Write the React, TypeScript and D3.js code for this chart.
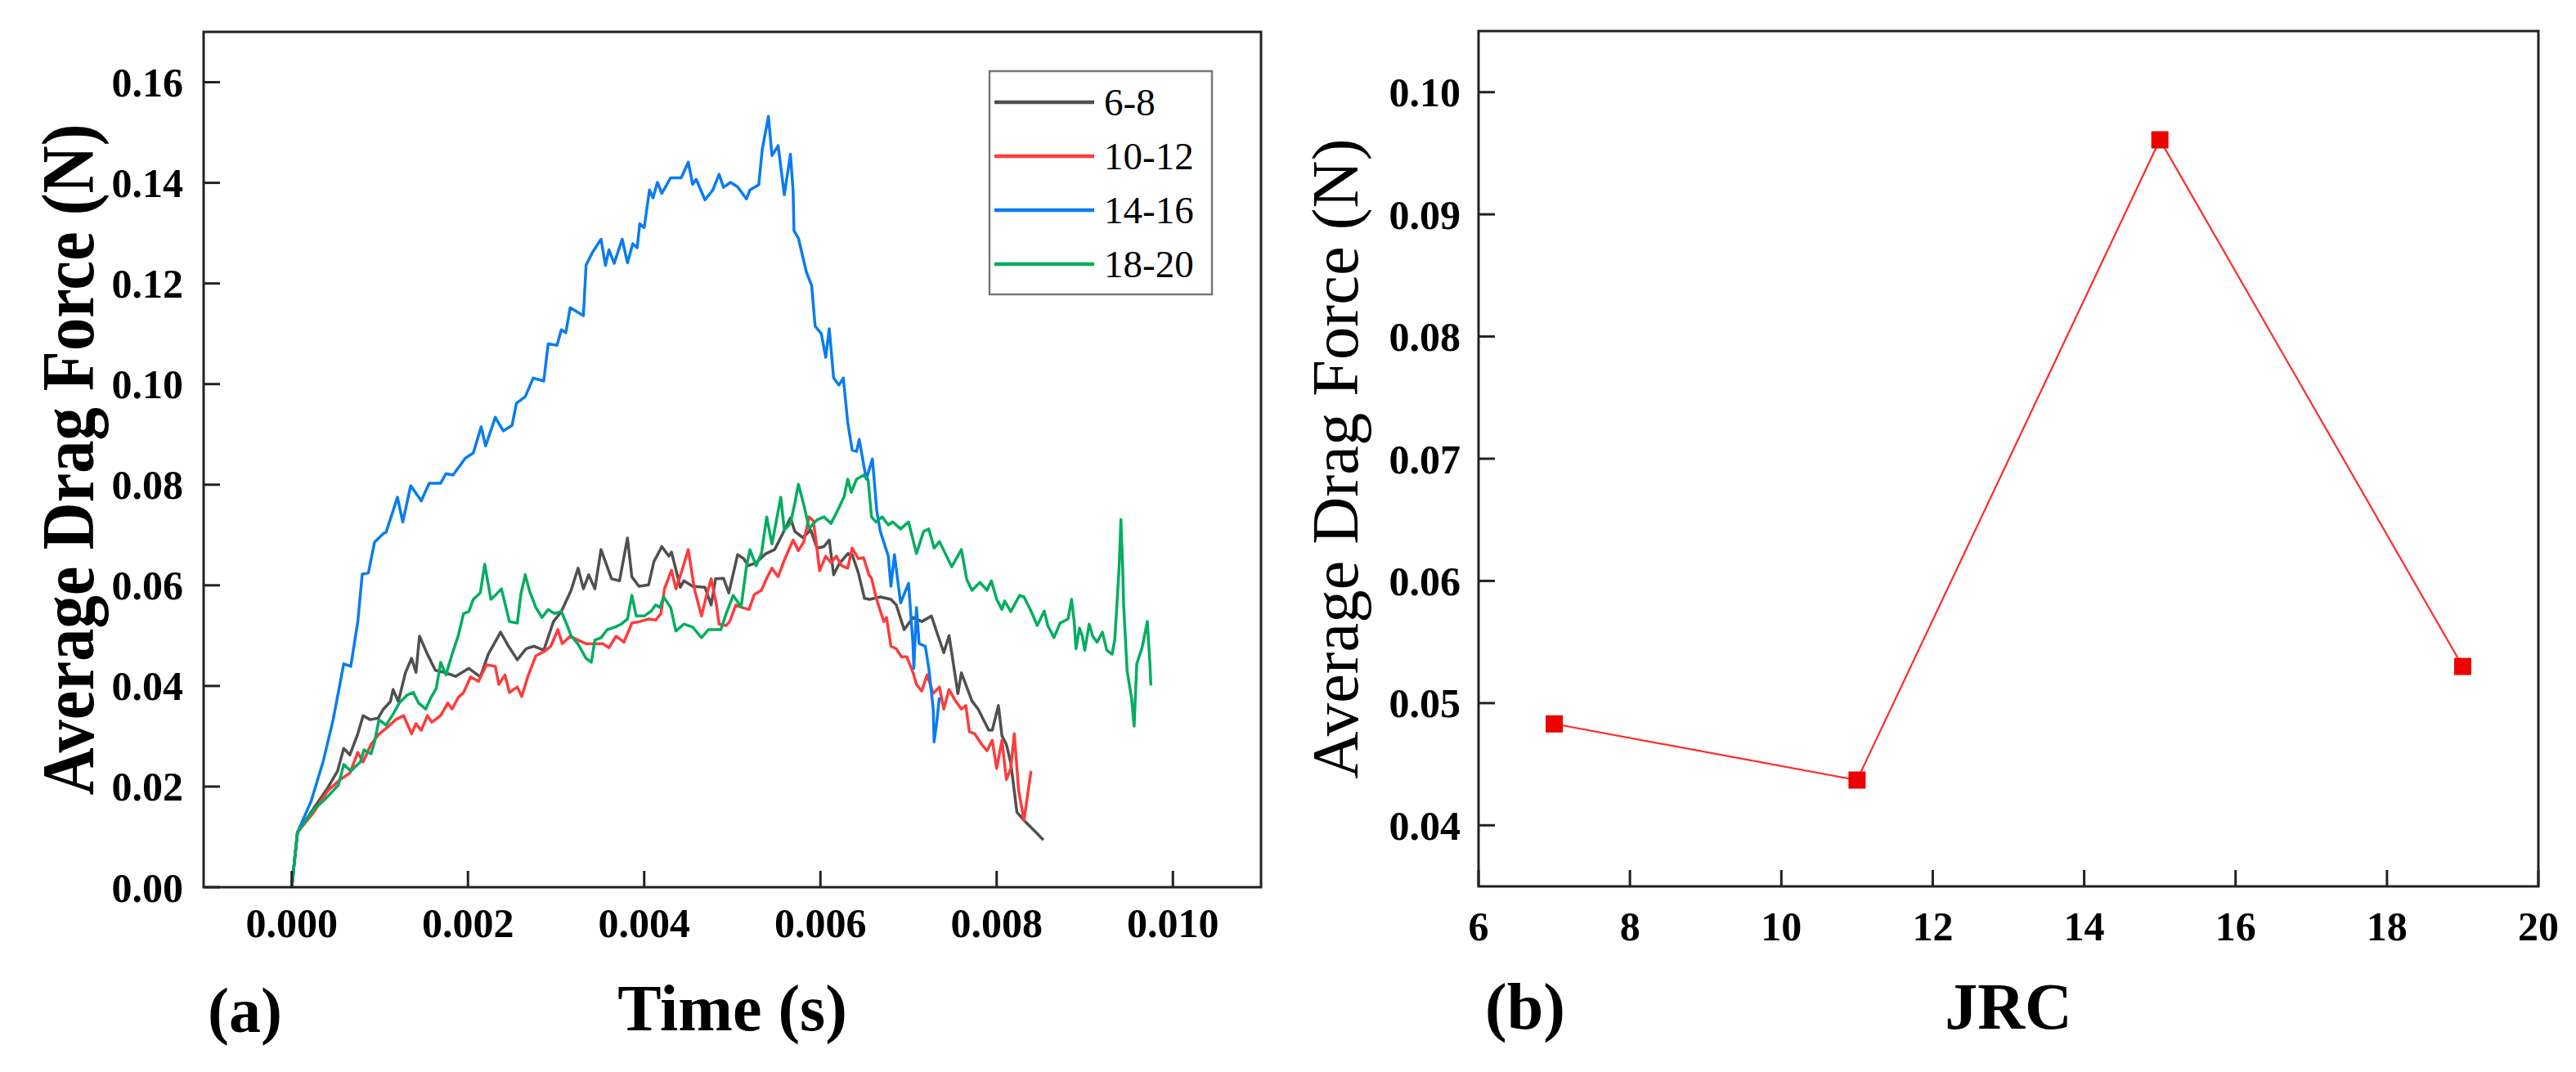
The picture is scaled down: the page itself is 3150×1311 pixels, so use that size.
import * as d3 from 'd3';

// ---- panel (a): drag force vs time, one trace per JRC range ----
const seriesNames = ['6-8', '10-12', '14-16', '18-20'];
const seriesColors = ['#505050', '#ff3b3b', '#0a7cf0', '#04ad60'];

const jrc68: [number, number][] = [
  [0, 0], [0.000065, 0.0109], [0.00022, 0.0149], [0.00041, 0.0198], [0.00052, 0.0231], [0.00059, 0.0276],
  [0.00066, 0.0263], [0.00075, 0.0305], [0.00081, 0.0341], [0.00089, 0.0333], [0.00098, 0.0336], [0.00104, 0.0354],
  [0.00112, 0.0369], [0.00115, 0.0393], [0.00121, 0.0369], [0.00129, 0.0426], [0.00136, 0.0455], [0.00141, 0.0427],
  [0.00145, 0.0499], [0.00154, 0.0463], [0.00163, 0.0431], [0.00173, 0.0427], [0.00186, 0.0419], [0.00201, 0.0435],
  [0.00214, 0.0418], [0.00223, 0.0463], [0.00237, 0.0507], [0.00246, 0.0479], [0.00256, 0.0452], [0.00266, 0.0474],
  [0.00275, 0.0479], [0.00286, 0.0471], [0.00297, 0.0528], [0.00306, 0.0548], [0.00317, 0.059], [0.00325, 0.0634],
  [0.00331, 0.0593], [0.00337, 0.0621], [0.00344, 0.0593], [0.00351, 0.0671], [0.00363, 0.0613], [0.00372, 0.0609],
  [0.00381, 0.0694], [0.00386, 0.0617], [0.00394, 0.0598], [0.00405, 0.0601], [0.00411, 0.0647], [0.0042, 0.0677],
  [0.00428, 0.0658], [0.00431, 0.0666], [0.00441, 0.0596], [0.00445, 0.0609], [0.00455, 0.0598], [0.00469, 0.0596],
  [0.00476, 0.0561], [0.00481, 0.0613], [0.0049, 0.0614], [0.00496, 0.0585], [0.00506, 0.0661], [0.00513, 0.0653],
  [0.00518, 0.0639], [0.00527, 0.0645], [0.00538, 0.0663], [0.00548, 0.0671], [0.00557, 0.0702], [0.00566, 0.0734],
  [0.00571, 0.0707], [0.0058, 0.0695], [0.00589, 0.071], [0.00596, 0.0674], [0.00604, 0.0677], [0.0061, 0.069],
  [0.00615, 0.0621], [0.00621, 0.0642], [0.00631, 0.0663], [0.00636, 0.0661], [0.00643, 0.0625], [0.0065, 0.0574],
  [0.00656, 0.0572], [0.00668, 0.0577], [0.0068, 0.0572], [0.00686, 0.0561], [0.00695, 0.0512], [0.00705, 0.0536],
  [0.00715, 0.0528], [0.00726, 0.0539], [0.00732, 0.0507], [0.0074, 0.0466], [0.00746, 0.05], [0.00756, 0.0385],
  [0.0076, 0.0426], [0.00772, 0.037], [0.00779, 0.0354], [0.00791, 0.0312], [0.00795, 0.0312], [0.00802, 0.0361],
  [0.00806, 0.0301], [0.00811, 0.0284], [0.00816, 0.0247], [0.00823, 0.0149], [0.00831, 0.0133], [0.00844, 0.011],
  [0.00853, 0.0094],
];

const jrc1012: [number, number][] = [
  [0, 0], [0.000065, 0.0109], [0.00025, 0.0149], [0.00041, 0.0192], [0.00055, 0.0214], [0.00066, 0.0227],
  [0.00075, 0.0268], [0.00081, 0.0249], [0.0009, 0.0284], [0.00099, 0.0304], [0.00108, 0.0317], [0.00118, 0.0333],
  [0.00127, 0.0341], [0.00136, 0.0305], [0.00141, 0.0325], [0.00147, 0.0312], [0.00154, 0.0341], [0.00159, 0.0328],
  [0.00169, 0.0341], [0.00177, 0.0366], [0.00182, 0.0354], [0.00189, 0.0377], [0.00195, 0.0387], [0.00203, 0.0418],
  [0.00212, 0.0409], [0.00221, 0.0442], [0.00231, 0.0439], [0.00235, 0.0403], [0.00242, 0.0422], [0.00247, 0.0387],
  [0.00256, 0.0398], [0.00261, 0.0379], [0.00268, 0.0419], [0.00277, 0.046], [0.00286, 0.0468], [0.00294, 0.0479],
  [0.00302, 0.0512], [0.00307, 0.0484], [0.00316, 0.0499], [0.00325, 0.0491], [0.00334, 0.0484], [0.00344, 0.0484],
  [0.00353, 0.0484], [0.0036, 0.0476], [0.00368, 0.0499], [0.00377, 0.0487], [0.00386, 0.0525], [0.00395, 0.0528],
  [0.00405, 0.0533], [0.00413, 0.0531], [0.00419, 0.0544], [0.00423, 0.0593], [0.00431, 0.063], [0.00436, 0.0593],
  [0.00442, 0.0625], [0.0045, 0.0671], [0.00457, 0.0593], [0.00465, 0.0539], [0.00471, 0.0582], [0.00476, 0.0613],
  [0.00482, 0.0561], [0.00485, 0.0523], [0.00493, 0.052], [0.00497, 0.0528], [0.00504, 0.0561], [0.00511, 0.0556],
  [0.00519, 0.0552], [0.00525, 0.0582], [0.00533, 0.059], [0.00539, 0.0614], [0.00545, 0.0634], [0.00552, 0.0617],
  [0.00559, 0.065], [0.00569, 0.069], [0.00575, 0.0669], [0.00581, 0.0686], [0.00587, 0.0736], [0.00592, 0.0728],
  [0.00596, 0.0674], [0.00599, 0.0629], [0.00606, 0.0658], [0.00612, 0.0645], [0.00618, 0.0658], [0.00624, 0.0639],
  [0.00631, 0.0634], [0.00636, 0.0674], [0.00643, 0.0653], [0.00649, 0.0655], [0.00655, 0.0621], [0.00658, 0.0614],
  [0.00663, 0.0577], [0.00668, 0.0549], [0.00672, 0.0528], [0.00675, 0.0536], [0.0068, 0.0479], [0.00686, 0.0474],
  [0.00692, 0.0458], [0.00698, 0.0458], [0.00705, 0.0427], [0.00709, 0.0403], [0.00715, 0.039], [0.00721, 0.0422],
  [0.00728, 0.0385], [0.00735, 0.0398], [0.0074, 0.0354], [0.00746, 0.0393], [0.00752, 0.0374], [0.0076, 0.0354],
  [0.00765, 0.0361], [0.00769, 0.0309], [0.00775, 0.0305], [0.00783, 0.0284], [0.00789, 0.0271], [0.00795, 0.0292],
  [0.008, 0.0236], [0.00806, 0.0292], [0.00811, 0.0214], [0.00816, 0.0236], [0.0082, 0.0305], [0.00825, 0.0192],
  [0.00831, 0.0133], [0.00839, 0.0231],
];

const jrc1416: [number, number][] = [
  [0, 0], [0.000065, 0.0109], [0.00022, 0.0171], [0.00036, 0.0252], [0.00047, 0.0333], [0.00059, 0.0444],
  [0.00067, 0.0439], [0.00075, 0.0528], [0.0008, 0.0622], [0.00087, 0.0625], [0.00094, 0.0686], [0.00104, 0.0703],
  [0.00107, 0.0705], [0.0012, 0.0775], [0.00126, 0.0726], [0.00135, 0.0798], [0.00147, 0.0768], [0.00156, 0.0803],
  [0.00169, 0.0803], [0.00175, 0.0822], [0.00183, 0.0819], [0.00197, 0.0853], [0.00206, 0.0863], [0.00215, 0.0915],
  [0.0022, 0.0877], [0.00231, 0.0934], [0.0024, 0.0907], [0.0025, 0.0918], [0.00255, 0.0962], [0.00265, 0.0975],
  [0.00274, 0.1012], [0.00286, 0.1006], [0.00291, 0.108], [0.00301, 0.1077], [0.00306, 0.1108], [0.00311, 0.1102],
  [0.00316, 0.1152], [0.00331, 0.1136], [0.00334, 0.1236], [0.00341, 0.1261], [0.00351, 0.1288], [0.00356, 0.1236],
  [0.0036, 0.1267], [0.00366, 0.124], [0.00375, 0.1288], [0.00381, 0.1241], [0.00387, 0.1279], [0.00392, 0.1271],
  [0.00395, 0.1319], [0.004, 0.1311], [0.00406, 0.1386], [0.0041, 0.137], [0.00415, 0.1401], [0.0042, 0.1379],
  [0.0043, 0.141], [0.00442, 0.141], [0.0045, 0.1441], [0.00455, 0.1397], [0.00459, 0.1407], [0.00469, 0.1366],
  [0.00478, 0.1386], [0.00485, 0.1417], [0.0049, 0.1391], [0.00498, 0.1401], [0.00506, 0.1392], [0.00516, 0.1368],
  [0.0052, 0.1386], [0.0053, 0.1396], [0.00534, 0.1467], [0.00541, 0.1532], [0.00545, 0.1454], [0.00552, 0.1474],
  [0.00559, 0.1376], [0.00566, 0.1457], [0.00569, 0.1383], [0.0057, 0.1305], [0.00575, 0.129], [0.00584, 0.1223],
  [0.0059, 0.1196], [0.00594, 0.1115], [0.00601, 0.11], [0.00606, 0.1053], [0.0061, 0.111], [0.00615, 0.1012],
  [0.00621, 0.0998], [0.00626, 0.1012], [0.00631, 0.0923], [0.00636, 0.0869], [0.00641, 0.0866], [0.00644, 0.089],
  [0.00652, 0.0811], [0.00659, 0.0851], [0.00664, 0.0747], [0.00668, 0.0707], [0.00677, 0.0658], [0.0068, 0.0598],
  [0.00684, 0.0661], [0.00691, 0.0565], [0.007, 0.0604], [0.00705, 0.0484], [0.00706, 0.0435], [0.00709, 0.0556],
  [0.00712, 0.0484], [0.00719, 0.0479], [0.00723, 0.0435], [0.00728, 0.0354], [0.00729, 0.0289], [0.00732, 0.0328],
  [0.00735, 0.0377],
];

const jrc1820: [number, number][] = [
  [0, 0], [0.000065, 0.0109], [0.00025, 0.0154], [0.00038, 0.0175], [0.00053, 0.0203], [0.00059, 0.0244],
  [0.00067, 0.0231], [0.00078, 0.0249], [0.00082, 0.0273], [0.0009, 0.0265], [0.00094, 0.0289], [0.00099, 0.0333],
  [0.00107, 0.0322], [0.00115, 0.0344], [0.00122, 0.0366], [0.00131, 0.0382], [0.00138, 0.0387], [0.00144, 0.0366],
  [0.00152, 0.0354], [0.00158, 0.0377], [0.00164, 0.0395], [0.00169, 0.0447], [0.00175, 0.0422], [0.00182, 0.0463],
  [0.00189, 0.05], [0.00195, 0.0544], [0.00201, 0.0548], [0.00206, 0.0572], [0.00214, 0.0585], [0.00219, 0.0642],
  [0.00226, 0.0572], [0.00232, 0.0582], [0.00238, 0.0593], [0.00247, 0.0528], [0.00256, 0.0525], [0.0026, 0.0582],
  [0.00265, 0.0621], [0.0027, 0.0588], [0.00277, 0.0556], [0.00284, 0.0536], [0.00291, 0.0552], [0.00298, 0.0544],
  [0.00306, 0.0548], [0.00312, 0.0523], [0.00317, 0.05], [0.00325, 0.0483], [0.00334, 0.0455], [0.0034, 0.0447],
  [0.00344, 0.0491], [0.00351, 0.0496], [0.00358, 0.0512], [0.00367, 0.0517], [0.00374, 0.0523], [0.00381, 0.0533],
  [0.00386, 0.058], [0.00391, 0.0539], [0.004, 0.0539], [0.00408, 0.0549], [0.00413, 0.0561], [0.00418, 0.0556],
  [0.00422, 0.0577], [0.0043, 0.0556], [0.00436, 0.0509], [0.00445, 0.0523], [0.00455, 0.0517], [0.00465, 0.0496],
  [0.00473, 0.0512], [0.00487, 0.0512], [0.00493, 0.0544], [0.00501, 0.058], [0.0051, 0.0557], [0.00516, 0.0637],
  [0.0052, 0.0671], [0.00527, 0.0639], [0.00533, 0.0663], [0.00539, 0.0736], [0.00545, 0.0682], [0.00555, 0.0775],
  [0.00559, 0.071], [0.00566, 0.0723], [0.00571, 0.0764], [0.00575, 0.0801], [0.00582, 0.0754], [0.00587, 0.0713],
  [0.00596, 0.073], [0.00604, 0.0736], [0.00612, 0.0723], [0.00621, 0.0754], [0.00627, 0.0777], [0.00631, 0.0811],
  [0.00635, 0.0785], [0.00641, 0.0811], [0.00649, 0.0819], [0.00654, 0.0811], [0.00658, 0.0736], [0.00663, 0.0726],
  [0.0067, 0.0736], [0.00677, 0.072], [0.00682, 0.0726], [0.00691, 0.0712], [0.007, 0.0726], [0.00709, 0.0663],
  [0.00717, 0.0707], [0.00723, 0.0712], [0.00729, 0.0674], [0.00735, 0.0687], [0.00749, 0.0637], [0.0076, 0.0671],
  [0.00766, 0.0612], [0.00772, 0.059], [0.00781, 0.0606], [0.00789, 0.059], [0.00794, 0.0609], [0.008, 0.0572],
  [0.00806, 0.0552], [0.00809, 0.0569], [0.00816, 0.0548], [0.00826, 0.058], [0.00831, 0.0577], [0.00839, 0.0549],
  [0.00846, 0.052], [0.00854, 0.0549], [0.00858, 0.052], [0.00865, 0.0496], [0.00872, 0.0525], [0.00881, 0.0533],
  [0.00885, 0.0572], [0.00888, 0.0528], [0.0089, 0.0474], [0.00894, 0.0515], [0.00897, 0.05], [0.009, 0.0471],
  [0.00905, 0.0523], [0.00909, 0.0499], [0.00914, 0.0487], [0.0092, 0.0507], [0.00925, 0.0471], [0.00931, 0.0463],
  [0.00934, 0.0491], [0.00937, 0.0577], [0.00939, 0.0637], [0.00941, 0.0731], [0.00943, 0.0637], [0.00944, 0.0565],
  [0.00948, 0.0431], [0.00953, 0.0377], [0.00956, 0.032], [0.00959, 0.0444], [0.00965, 0.0476], [0.00971, 0.0528],
  [0.00974, 0.0442], [0.00975, 0.0401],
];

const seriesData = [jrc68, jrc1012, jrc1416, jrc1820];

const timeTicks = [0, 0.002, 0.004, 0.006, 0.008, 0.01];
const timeTickLabels = ['0.000', '0.002', '0.004', '0.006', '0.008', '0.010'];
const forceTicksA = [0, 0.02, 0.04, 0.06, 0.08, 0.1, 0.12, 0.14, 0.16];
const forceTickLabelsA = ['0.00', '0.02', '0.04', '0.06', '0.08', '0.10', '0.12', '0.14', '0.16'];

// ---- panel (b): mean drag force per JRC ----
const jrcValues = [7, 11, 15, 19];
const meanForce = [0.0483, 0.0437, 0.0961, 0.053];
const jrcTicks = [6, 8, 10, 12, 14, 16, 18, 20];
const forceTicksB = [0.04, 0.05, 0.06, 0.07, 0.08, 0.09, 0.1];

const FONT = '"Liberation Serif", "Times New Roman", serif';
const FRAME = '#222';
const TICK = 20;

export default function App() {
  // panel a
  const ax = { left: 249, right: 1542, top: 39, bottom: 1085 };
  const xA = d3.scaleLinear().domain([-0.001, 0.011]).range([ax.left, ax.right]);
  const yA = d3.scaleLinear().domain([0, 0.17]).range([ax.bottom, ax.top]);
  const lineA = d3.line<[number, number]>().x(d => xA(d[0])).y(d => yA(d[1]));

  // panel b
  const bx = { left: 1808, right: 3104, top: 38, bottom: 1084 };
  const xB = d3.scaleLinear().domain([6, 20]).range([bx.left, bx.right]);
  const yB = d3.scaleLinear().domain([0.035, 0.105]).range([bx.bottom, bx.top]);
  const pointsB = jrcValues.map((j, i) => [j, meanForce[i]] as [number, number]);
  const lineB = d3.line<[number, number]>().x(d => xB(d[0])).y(d => yB(d[1]));

  const legend = { x: 1210, y: 87, w: 272, h: 273, row0: 125, rowStep: 66 };

  return (
    <div style={{ position: 'absolute', left: 0, top: 0, background: '#fff' }}>
      <svg width={3150} height={1311} style={{ display: 'block', fontFamily: FONT }}>
        <rect width={3150} height={1311} fill="#fff" />

        {/* ===== panel (a) ===== */}
        <g>
          {seriesData.map((s, i) => (
            <path key={seriesNames[i]} d={lineA(s) ?? ''} fill="none" stroke={seriesColors[i]}
              strokeWidth={3.5} strokeLinejoin="round" />
          ))}

          <rect x={ax.left} y={ax.top} width={ax.right - ax.left} height={ax.bottom - ax.top}
            fill="none" stroke={FRAME} strokeWidth={3} />

          {timeTicks.map((t, i) => (
            <g key={t}>
              <line x1={xA(t)} x2={xA(t)} y1={ax.bottom} y2={ax.bottom - TICK} stroke={FRAME} strokeWidth={3} />
              <text x={xA(t)} y={1146} textAnchor="middle" fontSize={50} fontWeight="bold">{timeTickLabels[i]}</text>
            </g>
          ))}
          {forceTicksA.map((v, i) => (
            <g key={v}>
              <line x1={ax.left} x2={ax.left + TICK} y1={yA(v)} y2={yA(v)} stroke={FRAME} strokeWidth={3} />
              <text x={224} y={yA(v)} dy="0.35em" textAnchor="end" fontSize={50} fontWeight="bold">{forceTickLabelsA[i]}</text>
            </g>
          ))}

          <text transform="translate(114,562) rotate(-90)" textAnchor="middle" fontSize={90} fontWeight="bold"
            textLength={821} lengthAdjust="spacingAndGlyphs">Average Drag Force (N)</text>
          <text x={(ax.left + ax.right) / 2} y={1260} textAnchor="middle" fontSize={80} fontWeight="bold">Time (s)</text>
          <text x={254} y={1262} fontSize={78} fontWeight="bold">(a)</text>

          {/* legend */}
          <rect x={legend.x} y={legend.y} width={legend.w} height={legend.h} fill="#fff" stroke="#777" strokeWidth={2.5} />
          {seriesNames.map((name, i) => {
            const yy = legend.row0 + i * legend.rowStep;
            return (
              <g key={name}>
                <line x1={1216} x2={1338} y1={yy} y2={yy} stroke={seriesColors[i]} strokeWidth={4.5} />
                <text x={1350} y={yy} dy="0.35em" fontSize={47}>{name}</text>
              </g>
            );
          })}
        </g>

        {/* ===== panel (b) ===== */}
        <g>
          <path d={lineB(pointsB) ?? ''} fill="none" stroke="#ff2a2a" strokeWidth={2.2} />
          {pointsB.map(p => (
            <rect key={p[0]} x={xB(p[0]) - 10.5} y={yB(p[1]) - 10.5} width={21} height={21} fill="#ee0000" />
          ))}

          <rect x={bx.left} y={bx.top} width={bx.right - bx.left} height={bx.bottom - bx.top}
            fill="none" stroke={FRAME} strokeWidth={3} />

          {jrcTicks.map(j => (
            <g key={j}>
              <line x1={xB(j)} x2={xB(j)} y1={bx.bottom} y2={bx.bottom - TICK} stroke={FRAME} strokeWidth={3} />
              <text x={xB(j)} y={1150} textAnchor="middle" fontSize={50} fontWeight="bold">{j}</text>
            </g>
          ))}
          {forceTicksB.map(v => (
            <g key={v}>
              <line x1={bx.left} x2={bx.left + TICK} y1={yB(v)} y2={yB(v)} stroke={FRAME} strokeWidth={3} />
              <text x={1786} y={yB(v)} dy="0.35em" textAnchor="end" fontSize={50} fontWeight="bold">{v.toFixed(2)}</text>
            </g>
          ))}

          <text transform="translate(1660,561) rotate(-90)" textAnchor="middle" fontSize={80}
            textLength={783} lengthAdjust="spacingAndGlyphs">Average Drag Force (N)</text>
          <text x={(bx.left + bx.right) / 2} y={1258} textAnchor="middle" fontSize={80} fontWeight="bold">JRC</text>
          <text x={1816} y={1258} fontSize={80} fontWeight="bold">(b)</text>
        </g>
      </svg>
    </div>
  );
}
